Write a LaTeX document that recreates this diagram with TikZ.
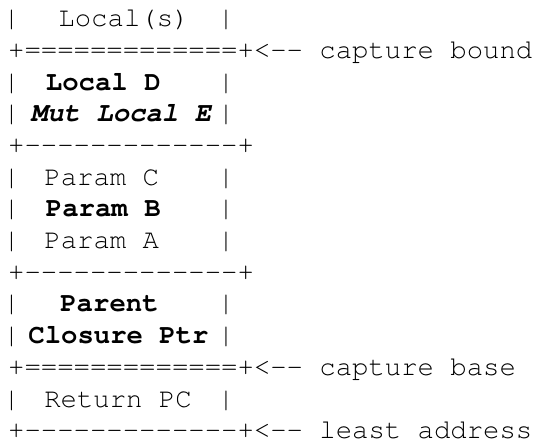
\documentclass[tikz,border=0pt]{standalone}
\usepackage[T1]{fontenc}
\newcommand\framefont{\fontencoding{T1}\fontfamily{pcr}\fontsize{27.3}{31.7}\selectfont}
% thirteen single dashes, kept apart so that no ligature forms
\newcommand\dashrow{-{}-{}-{}-{}-{}-{}-{}-{}-{}-{}-{}-{}-}

\begin{document}
\begin{tikzpicture}[x=1pt, y=1pt,
        cell/.style = {inner sep=0pt, anchor=base,
            font=\framefont},
        rule/.style = {cell, anchor=base west},
        strong/.style = {cell, font=\framefont\bfseries}]

    \useasboundingbox (0,0) rectangle (534,446);

    % Side bars of the frame
    \foreach \row/\y in {1/419.3, 3/355.9, 4/324.2, 6/260.8, 7/229.1,
                         8/197.4, 10/134.0, 11/102.3, 13/38.9} {
        \node[cell] (left\row) at (11.5,\y) {|};
        \node[cell] (right\row) at (226,\y) {|};
    }

    % Locals
    \node[cell] (locals) at (124,419.3) {Local(s)};
    \node[rule] (bound) at (8,387.6) {+=============+<-{}- capture bound};
    \node[strong] (localD) at (103.3,355.9) {Local D};
    \node[strong, font=\framefont\bfseries\itshape] (localE) at (121,324.2) {Mut Local E};
    \node[rule] (sep1) at (8,292.5) {+\dashrow+};

    % Params
    \node[cell] (paramC) at (101.7,260.8) {Param C};
    \node[strong] (paramB) at (103.3,229.1) {Param B};
    \node[cell] (paramA) at (101.7,197.4) {Param A};
    \node[rule] (sep2) at (8,165.7) {+\dashrow+};

    % Parent closure
    \node[strong] (parent) at (109.5,134.0) {Parent};
    \node[strong] (closure) at (118.5,102.3) {Closure Ptr};
    \node[rule] (base) at (8,70.6) {+=============+<-{}- capture base};

    % Return address
    \node[cell] (retpc) at (118,38.9) {Return PC};
    \node[rule] (least) at (8,7.2) {+\dashrow+<-{}- least address};

\end{tikzpicture}
\end{document}
